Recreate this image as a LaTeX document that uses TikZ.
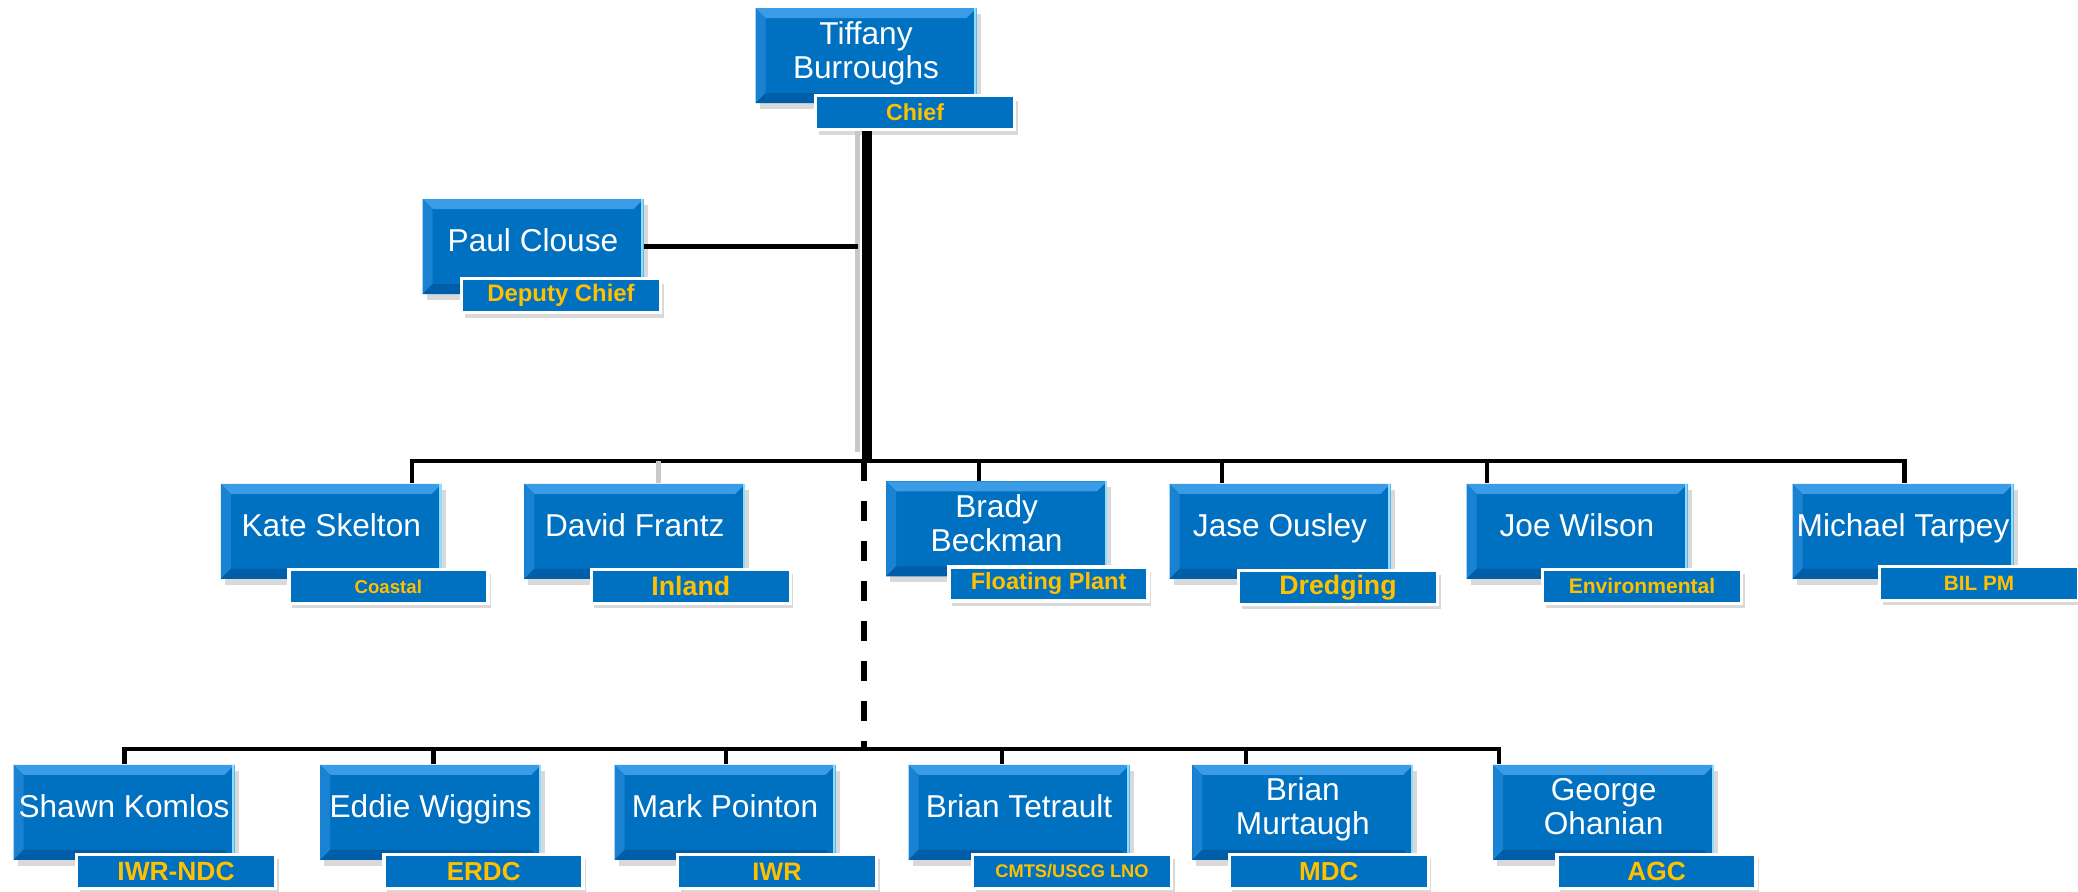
\documentclass[tikz,border=0pt]{standalone}
\usepackage{fontspec}
\setmainfont{Liberation Sans}
\usetikzlibrary{positioning, shadows}

\definecolor{boxblue}{HTML}{0070C0}
\definecolor{bevhi}{HTML}{3A9BE6}
\definecolor{bevmid}{HTML}{1A82D2}
\definecolor{bevlo}{HTML}{005EA8}
\definecolor{bevrt}{HTML}{8FDCFF}
\definecolor{tagtext}{HTML}{FFC000}
\definecolor{stemgray}{HTML}{C8C8C8}

\newcommand{\tagsz}[1]{\bfseries\fontsize{#1}{#1}\selectfont}

\begin{document}
\begin{tikzpicture}[
  box/.style={rectangle, fill=boxblue, minimum width=2.21cm, minimum height=0.95cm, inner sep=1pt,
    align=center, text=white, font=\fontsize{9}{9.6}\selectfont, text depth=1.2mm,
    drop shadow={opacity=0.3, shadow xshift=0.4mm, shadow yshift=-0.6mm},
    path picture={
      \fill[bevhi] (path picture bounding box.north west) -- (path picture bounding box.north east)
        -- ([shift={(-1mm,-1mm)}]path picture bounding box.north east) -- ([shift={(1mm,-1mm)}]path picture bounding box.north west) -- cycle;
      \fill[bevmid] (path picture bounding box.north west) -- ([shift={(1mm,-1mm)}]path picture bounding box.north west)
        -- ([shift={(1mm,1mm)}]path picture bounding box.south west) -- (path picture bounding box.south west) -- cycle;
      \fill[bevlo] (path picture bounding box.south west) -- ([shift={(1mm,1mm)}]path picture bounding box.south west)
        -- ([shift={(-1mm,1mm)}]path picture bounding box.south east) -- (path picture bounding box.south east) -- cycle;
      \fill[bevrt] ([xshift=-0.25mm]path picture bounding box.north east) rectangle (path picture bounding box.south east);
    }},
  tag/.style={rectangle, fill=boxblue, draw=white, line width=1pt, minimum width=1.99cm, minimum height=0.34cm,
    inner sep=0pt, text=tagtext, font=\tagsz{7},
    drop shadow={opacity=0.3, shadow xshift=0.3mm, shadow yshift=-0.5mm}},
  link/.style={line width=1.2pt},
  trunk/.style={line width=2.8pt},
  faint/.style={line width=1.4pt, stemgray}
]
\useasboundingbox (0,0) rectangle (20.78,-8.92);

% chief and deputy
\node[box] (tiffany) at (8.66,-0.557) {Tiffany\\Burroughs};
\node[tag, xshift=4.9mm, yshift=-5.7mm, font=\tagsz{6.6}] (tiffanyT) at (tiffany) {Chief};
\node[box] (paul) at (5.33,-2.465) {Paul Clouse};
\node[tag, xshift=2.8mm, yshift=-4.9mm, font=\tagsz{6.8}] (paulT) at (paul) {Deputy Chief};

% middle row
\node[box] (kate) at (3.313,-5.314) {Kate Skelton};
\node[tag, xshift=5.7mm, yshift=-5.5mm, font=\tagsz{5.3}] (kateT) at (kate) {Coastal};
\node[box] (david) at (6.348,-5.314) {David Frantz};
\node[tag, xshift=5.6mm, yshift=-5.5mm, font=\tagsz{7.6}] (davidT) at (david) {Inland};
\node[box] (brady) at (9.966,-5.288) {Brady\\Beckman};
\node[tag, xshift=5.2mm, yshift=-5.5mm, font=\tagsz{6.7}] (bradyT) at (brady) {Floating Plant};
\node[box] (jase) at (12.80,-5.314) {Jase Ousley};
\node[tag, xshift=5.8mm, yshift=-5.6mm, font=\tagsz{7.6}] (jaseT) at (jase) {Dredging};
\node[box] (joe) at (15.77,-5.314) {Joe Wilson};
\node[tag, xshift=6.5mm, yshift=-5.5mm, font=\tagsz{6}] (joeT) at (joe) {Environmental};
\node[box] (michael) at (19.03,-5.314) {Michael Tarpey};
\node[tag, xshift=7.6mm, yshift=-5.2mm, font=\tagsz{5.9}] (michaelT) at (michael) {BIL PM};

% bottom row
\node[box] (shawn) at (1.24,-8.124) {Shawn Komlos};
\node[tag, xshift=5.2mm, yshift=-5.9mm, font=\tagsz{7.5}] (shawnT) at (shawn) {IWR-NDC};
\node[box] (eddie) at (4.307,-8.124) {Eddie Wiggins};
\node[tag, xshift=5.3mm, yshift=-5.9mm, font=\tagsz{7.4}] (eddieT) at (eddie) {ERDC};
\node[box] (mark) at (7.25,-8.124) {Mark Pointon};
\node[tag, xshift=5.2mm, yshift=-5.9mm, font=\tagsz{7.2}] (markT) at (mark) {IWR};
\node[box] (briant) at (10.19,-8.124) {Brian Tetrault};
\node[tag, xshift=5.3mm, yshift=-5.9mm, font=\tagsz{5.2}] (briantT) at (briant) {CMTS/USCG LNO};
\node[box] (brianm) at (13.028,-8.124) {Brian\\Murtaugh};
\node[tag, xshift=2.6mm, yshift=-5.9mm, font=\tagsz{7.4}] (brianmT) at (brianm) {MDC};
\node[box] (george) at (16.036,-8.124) {George\\Ohanian};
\node[tag, xshift=5.3mm, yshift=-5.9mm, font=\tagsz{7.5}] (georgeT) at (george) {AGC};

% junctions
\coordinate (stem) at (8.67,-4.61);
\coordinate (stemG) at (8.575,-4.52);
\coordinate (j-kate) at (4.12,-4.61);
\coordinate (j-david) at (6.587,-4.61);
\coordinate (j-brady) at (9.79,-4.61);
\coordinate (j-jase) at (12.22,-4.61);
\coordinate (j-joe) at (14.87,-4.61);
\coordinate (j-michael) at (19.045,-4.61);
\coordinate (split) at (8.64,-7.49);
\coordinate (j-shawn) at (1.246,-7.49);
\coordinate (j-eddie) at (4.334,-7.49);
\coordinate (j-mark) at (7.263,-7.49);
\coordinate (j-briant) at (10.02,-7.49);
\coordinate (j-brianm) at (12.458,-7.49);
\coordinate (j-george) at (14.99,-7.49);

% trunk
\draw[faint] (tiffanyT.south -| stemG) -- (stemG);
\draw[trunk] (tiffanyT.south -| stem) -- (stem);
\draw[link] (paul.east) -- (paul.east -| stemG);

% middle bus
\draw[link] (j-kate |- kate.north) -- (j-kate) -- (j-michael) -- (j-michael |- michael.north);
\draw[faint] (j-david) -- (j-david |- david.north);
\draw[link] (j-brady) -- (j-brady |- brady.north);
\draw[link] (j-jase) -- (j-jase |- jase.north);
\draw[link] (j-joe) -- (j-joe |- joe.north);

% lower bus
\draw[line width=1.6pt, dash pattern=on 2mm off 2mm] (stem -| split) -- (split);
\draw[link] (j-shawn |- shawn.north) -- (j-shawn) -- (j-george) -- (j-george |- george.north);
\draw[link] (j-eddie) -- (j-eddie |- eddie.north);
\draw[link] (j-mark) -- (j-mark |- mark.north);
\draw[link] (j-briant) -- (j-briant |- briant.north);
\draw[link] (j-brianm) -- (j-brianm |- brianm.north);
\end{tikzpicture}
\end{document}
